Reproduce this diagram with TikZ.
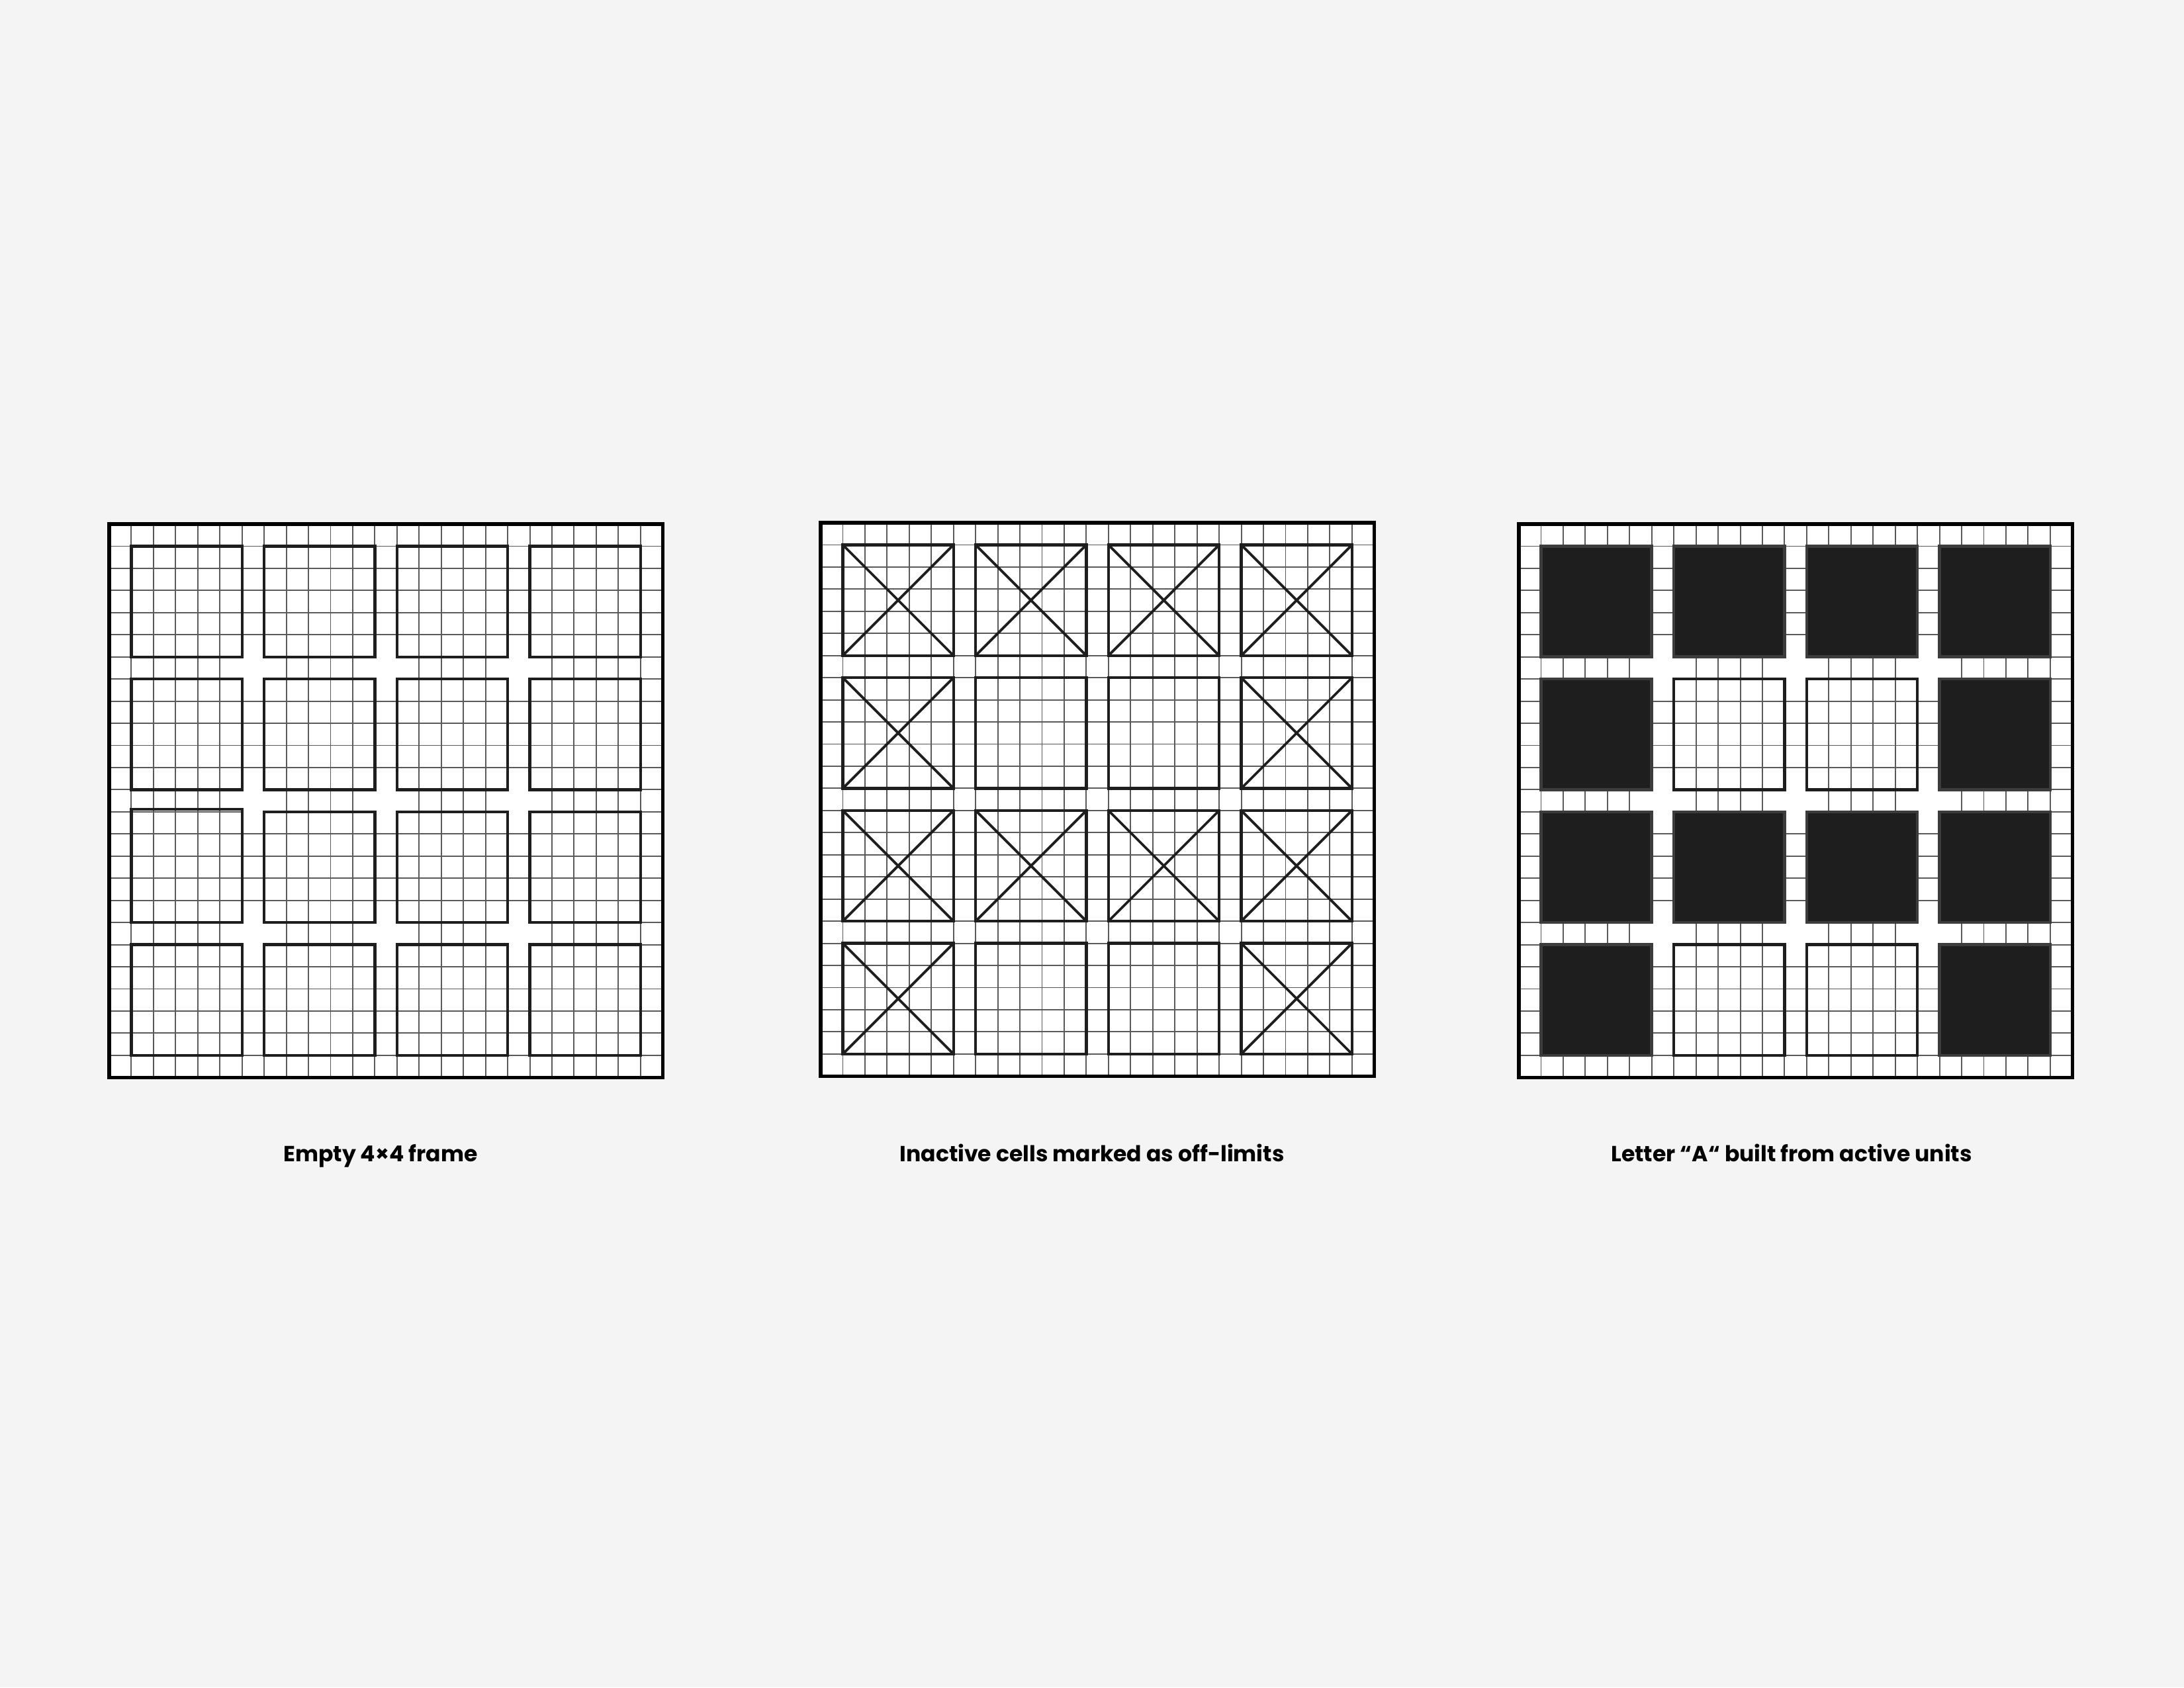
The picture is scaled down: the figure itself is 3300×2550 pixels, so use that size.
\documentclass[tikz,border=0pt]{standalone}
\usepackage{fontspec}
\setmainfont{Poppins}
\definecolor{bgpage}{HTML}{F4F4F4}
\definecolor{inkbox}{HTML}{1E1E1E}
\definecolor{gridgrey}{HTML}{5A5A5A}
\definecolor{fillrim}{HTML}{3C3C3C}
\tikzset{
  gridline/.style={draw=gridgrey, line width=0.55pt},
  frameline/.style={draw=black, line width=1.5pt},
  unitbox/.style={draw=inkbox, line width=1.2pt},
  crossline/.style={draw=inkbox, line width=1.1pt, line cap=round},
  activebox/.style={fill=inkbox, draw=fillrim, line width=1.3pt},
  caption/.style={font=\bfseries\fontsize{9.4}{11}\selectfont, text=black, anchor=base}
}
\newcommand{\cs}{33.45}
\newcommand{\letterA}{0/0,0/1,0/2,0/3,1/0,1/3,2/0,2/1,2/2,2/3,3/0,3/3}
\newcommand{\unitgrid}{%
  \fill[white] (0,0) rectangle ({25*\cs},{25*\cs});
  \foreach \k in {1,...,24} {
    \draw[gridline] ({\k*\cs},0) -- ({\k*\cs},{25*\cs});
    \draw[gridline] (0,{\k*\cs}) -- ({25*\cs},{\k*\cs});
  }}
\newcommand{\blankgaps}{%
  \foreach \i in {1,2,3} \foreach \j in {1,2,3}
    \fill[white] ({6*\i*\cs-1.5},{6*\j*\cs-1.5}) rectangle ++({\cs+3},{\cs+3});}

\begin{document}
\begin{tikzpicture}[x=0.01cm, y=-0.01cm]

\useasboundingbox (0,0) rectangle (3300,2550);
\fill[bgpage] (0,0) rectangle (3300,2550);

% empty frame
\begin{scope}[shift={(165,792)}]
\unitgrid
\blankgaps
\foreach \r in {0,...,3} \foreach \c in {0,...,3} {
  \ifnum\r\c=20 \def\lift{3.5}\else\def\lift{0}\fi
  \draw[unitbox] ({(1+6*\c)*\cs},{(1+6*\r)*\cs-\lift}) rectangle ({(6+6*\c)*\cs},{(6+6*\r)*\cs});
}
\draw[frameline] (0,0) rectangle ({25*\cs},{25*\cs});
\end{scope}

% off-limits cells
\begin{scope}[shift={(1240,790)}]
\unitgrid
\foreach \r in {0,...,3} \foreach \c in {0,...,3}
  \draw[unitbox] ({(1+6*\c)*\cs},{(1+6*\r)*\cs}) rectangle ({(6+6*\c)*\cs},{(6+6*\r)*\cs});
\foreach \r/\c in \letterA {
  \draw[crossline] ({(1+6*\c)*\cs},{(1+6*\r)*\cs}) -- ({(6+6*\c)*\cs},{(6+6*\r)*\cs});
  \draw[crossline] ({(6+6*\c)*\cs},{(1+6*\r)*\cs}) -- ({(1+6*\c)*\cs},{(6+6*\r)*\cs});
}
\draw[frameline] (0,0) rectangle ({25*\cs},{25*\cs});
\end{scope}

% letter A
\begin{scope}[shift={(2295,792)}]
\unitgrid
\blankgaps
\foreach \r in {0,...,3} \foreach \c in {0,...,3}
  \draw[unitbox] ({(1+6*\c)*\cs},{(1+6*\r)*\cs}) rectangle ({(6+6*\c)*\cs},{(6+6*\r)*\cs});
\foreach \r/\c in \letterA
  \draw[activebox] ({(1+6*\c)*\cs},{(1+6*\r)*\cs}) rectangle ({(6+6*\c)*\cs},{(6+6*\r)*\cs});
\draw[frameline] (0,0) rectangle ({25*\cs},{25*\cs});
\end{scope}

\node[caption] (capempty) at (575,1755) {Empty 4×4 frame};
\node[caption] (capoff) at (1650,1755) {Inactive cells marked as off-limits};
\node[caption] (capletter) at (2707,1755) {Letter “A“ built from active units};

\end{tikzpicture}
\end{document}
